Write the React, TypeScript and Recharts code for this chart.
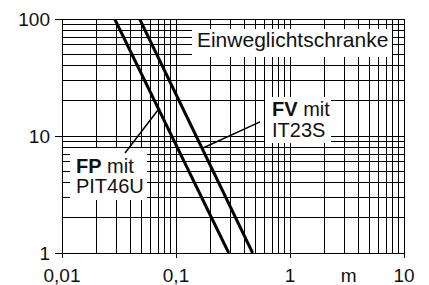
import { ComposedChart, Line, XAxis, YAxis, CartesianGrid, ReferenceArea, ReferenceLine } from "recharts";

// log grid: every 1..9 step in each decade
const xGrid = [
  0.01, 0.02, 0.03, 0.04, 0.05, 0.06, 0.07, 0.08, 0.09,
  0.1, 0.2, 0.3, 0.4, 0.5, 0.6, 0.7, 0.8, 0.9,
  1, 2, 3, 4, 5, 6, 7, 8, 9, 10,
];
const yGrid = [1, 2, 3, 4, 5, 6, 7, 8, 9, 10, 20, 30, 40, 50, 60, 70, 80, 90, 100];

const xMajor = [0.01, 0.1, 1, 10];
const xMajorLabels = ["0,01", "0,1", "1", "10"];
const yMajor = [1, 10, 100];
const yMajorLabels = ["1", "10", "100"];
const unitLabel = "m";
const unitPos = 3.2;

const fpLine = [
  { x: 0.029, y: 100 },
  { x: 0.29, y: 1 },
];
const fvLine = [
  { x: 0.048, y: 100 },
  { x: 0.47, y: 1 },
];

const font = "'Liberation Sans', Arial, sans-serif";

const XTick = ({ x, y, payload }: any) => {
  const i = xMajor.indexOf(payload.value);
  if (i < 0) return <g />;
  return (
    <g>
      <line x1={x} x2={x} y1={y} y2={y + 5} stroke="#000" shapeRendering="crispEdges" />
      <text x={x} y={y + 29} textAnchor="middle" fontSize={19} fontFamily={font} fill="#111">
        {xMajorLabels[i]}
      </text>
    </g>
  );
};

const YTick = ({ x, y, payload }: any) => {
  const i = yMajor.indexOf(payload.value);
  if (i < 0) return <g />;
  return (
    <g>
      <line x1={x - 7} x2={x} y1={y} y2={y} stroke="#000" shapeRendering="crispEdges" />
      <text x={x - 12} y={y + 7} textAnchor="end" fontSize={19} fontFamily={font} fill="#111">
        {yMajorLabels[i]}
      </text>
    </g>
  );
};

const boxText =
  (rows: { bold?: string; text: string }[], dx: number, dy: number, lh: number, size: number) =>
  (props: any) => {
    const { x, y } = props.viewBox;
    return (
      <text x={x + dx} y={y + dy} fontSize={size} fontFamily={font} fill="#111">
        {rows.map((r, i) => (
          <tspan key={i} x={x + dx} dy={i === 0 ? 0 : lh}>
            {r.bold ? <tspan fontWeight="bold">{r.bold}</tspan> : null}
            {r.text}
          </tspan>
        ))}
      </text>
    );
  };

const unitText = (props: any) => {
  const { x, y, height } = props.viewBox;
  return (
    <text x={x + 1} y={y + height + 29} textAnchor="middle" fontSize={19} fontFamily={font} fill="#111">
      {unitLabel}
    </text>
  );
};

export default function App() {
  return (
    <div style={{ position: "absolute", left: 0, top: 0 }}>
      <ComposedChart width={429} height={285} margin={{ top: 19, right: 25, bottom: 0, left: 0 }}>
        <CartesianGrid stroke="#000" strokeWidth={1} shapeRendering="crispEdges" />
        <XAxis
          dataKey="x"
          type="number"
          scale="log"
          domain={[0.01, 10]}
          ticks={xGrid}
          interval={0}
          allowDataOverflow
          axisLine={false}
          tickLine={false}
          tickSize={0}
          tickMargin={0}
          tick={XTick}
          height={32}
        />
        <YAxis
          type="number"
          scale="log"
          domain={[1, 100]}
          ticks={yGrid}
          interval={0}
          allowDataOverflow
          axisLine={false}
          tickLine={false}
          tickSize={0}
          tickMargin={0}
          tick={YTick}
          width={62}
        />
        <ReferenceArea
          x1={0.138}
          x2={7.85}
          y1={47.3}
          y2={82}
          fill="#fff"
          fillOpacity={1}
          stroke="none"
          label={boxText([{ text: "Einweglichtschranke" }], 5, 18, 0, 21)}
        />
        <ReferenceArea
          x1={0.604}
          x2={2.29}
          y1={8.7}
          y2={21.5}
          fill="#fff"
          fillOpacity={1}
          stroke="none"
          label={boxText([{ bold: "FV", text: " mit" }, { text: "IT23S" }], 7, 19, 21, 20)}
        />
        <ReferenceArea
          x1={0.01175}
          x2={0.0557}
          y1={2.84}
          y2={7.9}
          fill="#fff"
          fillOpacity={1}
          stroke="none"
          label={boxText([{ bold: "FP", text: " mit" }, { text: "PIT46U" }], 6, 25, 20, 20)}
        />
        <ReferenceLine
          segment={[
            { x: 0.0695, y: 16.7 },
            { x: 0.0357, y: 7.16 },
          ]}
          stroke="#000"
          strokeWidth={1.5}
        />
        <ReferenceLine
          segment={[
            { x: 0.1726, y: 7.9 },
            { x: 0.546, y: 13.2 },
          ]}
          stroke="#000"
          strokeWidth={1.5}
        />
        <ReferenceLine x={unitPos} stroke="none" label={unitText} />
        <Line data={fpLine} dataKey="y" stroke="#000" strokeWidth={3} dot={false} isAnimationActive={false} />
        <Line data={fvLine} dataKey="y" stroke="#000" strokeWidth={3} dot={false} isAnimationActive={false} />
      </ComposedChart>
    </div>
  );
}
